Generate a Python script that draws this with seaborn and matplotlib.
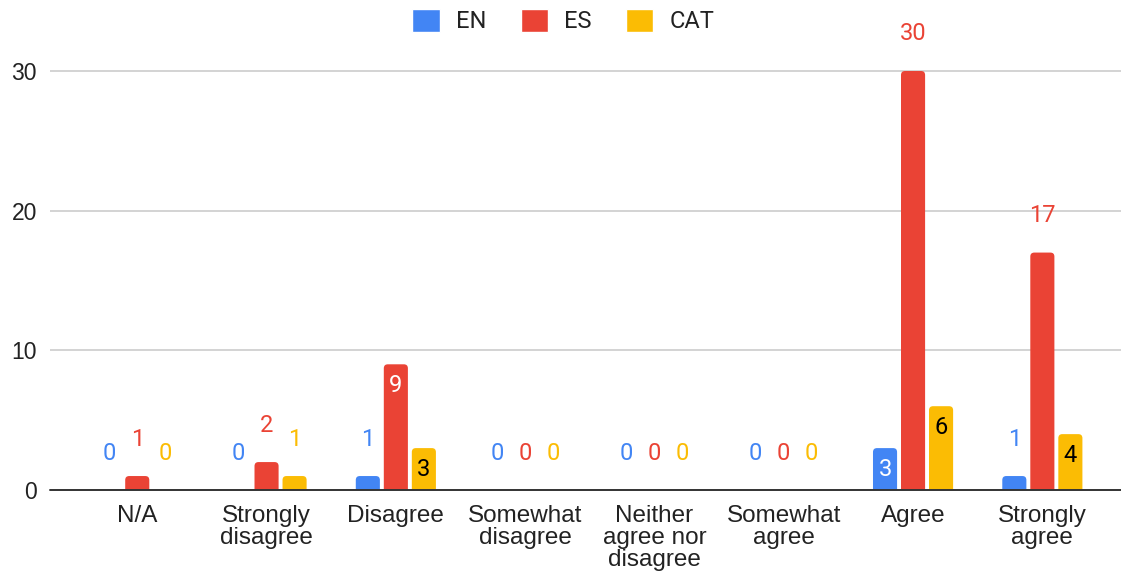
import matplotlib
matplotlib.use("Agg")
import matplotlib.pyplot as plt
from matplotlib.patches import FancyBboxPatch
import numpy as np
import pandas as pd
import seaborn as sns

# Survey answers and counts per language version
answers = ["N/A", "Strongly\ndisagree", "Disagree", "Somewhat\ndisagree",
           "Neither\nagree nor\ndisagree", "Somewhat\nagree", "Agree", "Strongly\nagree"]
languages = ["EN", "ES", "CAT"]
en_counts = [0, 0, 1, 0, 0, 0, 3, 1]
es_counts = [1, 2, 9, 0, 0, 0, 30, 17]
cat_counts = [0, 1, 3, 0, 0, 0, 6, 4]
y_ticks = [0, 10, 20, 30]

colors = {"EN": "#4285F4", "ES": "#EA4335", "CAT": "#FBBC04"}
inside_text = {"EN": "white", "ES": "white", "CAT": "black"}

df = pd.DataFrame({
    "answer": answers * 3,
    "lang": sum([[l] * len(answers) for l in languages], []),
    "count": en_counts + es_counts + cat_counts,
})

sns.set_theme(style="white")
plt.rcParams["font.family"] = ["Liberation Sans", "DejaVu Sans"]

W, H = 1121, 575
fig = plt.figure(figsize=(W / 100, H / 100), dpi=100)
ax = fig.add_axes([50 / W, 1 - 490 / H, 1 - 50 / W, (490 - 36) / H])

sns.barplot(data=df, x="answer", y="count", hue="lang", hue_order=languages,
            palette=colors, width=0.65, gap=0.14, ax=ax, saturation=1)

ymax = 30 + (71 - 36) / ((490 - 71) / 30)
ax.set_ylim(0, ymax)
ax.set_xlim(-0.5 - (72.6 - 50) / 129.3, 7.5 + (1121 - 1107) / 129.3)

for s in ax.spines.values():
    s.set_visible(False)
ax.set_yticks(y_ticks)
ax.yaxis.grid(True, color="#cccccc", linewidth=1.2)
ax.set_axisbelow(True)
ax.axhline(0, color="#333333", linewidth=1.4, zorder=3, clip_on=False)
ax.tick_params(axis="y", length=0, pad=9.5, labelsize=16.5, labelcolor="#222222")
ax.tick_params(axis="x", length=0, pad=10.5, labelsize=17.5, labelcolor="#222222")
for t in ax.get_xticklabels():
    t.set_linespacing(1.0)
    t.set_verticalalignment("top")
ax.set_xlabel("")
ax.set_ylabel("")

# Rounded-top bars: radius expressed in pixels and converted to data units
fig.canvas.draw()
px_x = ax.transData.transform((1, 0))[0] - ax.transData.transform((0, 0))[0]
px_y = ax.transData.transform((0, 1))[1] - ax.transData.transform((0, 0))[1]
radius_px = 4.0
rx = radius_px / px_x
aspect = px_x / px_y

label_font = ["Roboto", "DejaVu Sans"]
for lang, cont in zip(languages, ax.containers):
    for bar in cont:
        h = bar.get_height()
        x0 = bar.get_x()
        w = bar.get_width()
        bar.set_visible(False)
        if h > 0:
            ry = rx * aspect
            patch = FancyBboxPatch((x0, -ry), w, h + ry,
                                   boxstyle=f"round,pad=0,rounding_size={rx}",
                                   mutation_aspect=aspect,
                                   facecolor=colors[lang], edgecolor="none",
                                   zorder=2)
            ax.add_patch(patch)
        xc = x0 + w / 2
        if 3 <= h <= 10:
            ax.annotate(f"{int(h)}", (xc, h), xytext=(0, -21 * 0.72),
                        textcoords="offset points", ha="center", va="center",
                        fontsize=17, color=inside_text[lang],
                        family=label_font, zorder=4)
        else:
            ax.annotate(f"{int(h)}", (xc, h), xytext=(0, 37 * 0.72),
                        textcoords="offset points", ha="center", va="center",
                        fontsize=17, color=colors[lang],
                        family=label_font, zorder=4, annotation_clip=False)

sns.move_legend(ax, "center", bbox_to_anchor=(563.5 / W, 1 - 21 / H),
                bbox_transform=fig.transFigure, ncol=3, frameon=False,
                title=None, fontsize=17, handlelength=1.15, handleheight=1.15,
                handletextpad=0.7, columnspacing=1.45)
leg = ax.get_legend()
for t in leg.get_texts():
    t.set_color("#222222")
    t.set_family(label_font)

fig.savefig("out.png", dpi=100)
